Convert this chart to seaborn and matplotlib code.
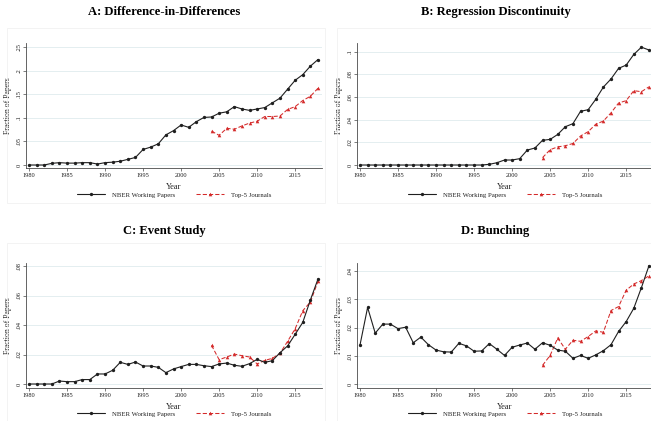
import numpy as np
import pandas as pd
import matplotlib
matplotlib.use("Agg")
import matplotlib.pyplot as plt
from matplotlib.patches import Rectangle
from matplotlib.ticker import FuncFormatter
import seaborn as sns

# ---------------------------------------------------------------- data
years_nber = list(range(1980, 2019))
years_top5 = list(range(2004, 2019))

did_nber = [0.000, 0.000, 0.000, 0.0035, 0.005, 0.004, 0.004, 0.005, 0.005, 0.002,
            0.005, 0.006, 0.008, 0.012, 0.016, 0.033, 0.038, 0.045, 0.064, 0.073,
            0.085, 0.080, 0.092, 0.101, 0.102, 0.110, 0.113, 0.124, 0.119, 0.116,
            0.119, 0.122, 0.132, 0.142, 0.161, 0.180, 0.192, 0.210, 0.224]
did_top5 = [0.072, 0.063, 0.078, 0.076, 0.083, 0.089, 0.093, 0.103, 0.103, 0.104,
            0.118, 0.124, 0.137, 0.146, 0.163]

rd_nber = [0.0] * 17 + [0.0006, 0.002, 0.0044, 0.0044, 0.0056, 0.0132, 0.015, 0.0218,
                        0.0226, 0.027, 0.0338, 0.0365, 0.0474, 0.0488, 0.058, 0.0688,
                        0.0759, 0.0853, 0.0882, 0.0976, 0.104, 0.1015]
rd_top5 = [0.0065, 0.0135, 0.016, 0.017, 0.019, 0.0256, 0.0294, 0.036, 0.0388, 0.046,
           0.0547, 0.0568, 0.0656, 0.0647, 0.069]

es_nber = [0.0, 0.0, 0.0, 0.0, 0.002, 0.0016, 0.0016, 0.003, 0.003, 0.0068,
           0.0068, 0.0093, 0.0147, 0.0133, 0.0149, 0.0122, 0.0122, 0.0113, 0.0077, 0.0102,
           0.0118, 0.0133, 0.0133, 0.0124, 0.0118, 0.0136, 0.0142, 0.0127, 0.012, 0.0138,
           0.0167, 0.0147, 0.0158, 0.0212, 0.0258, 0.0337, 0.0418, 0.057, 0.0712]
es_top5 = [0.0262, 0.0165, 0.0183, 0.0203, 0.0192, 0.0183, 0.0136, 0.016, 0.0174, 0.0208,
           0.0289, 0.0375, 0.0497, 0.0556, 0.0696]

bun_nber = [0.0138, 0.0271, 0.018, 0.0212, 0.0212, 0.0196, 0.0201, 0.0146, 0.0166, 0.0139,
            0.012, 0.0114, 0.0113, 0.0144, 0.0135, 0.0116, 0.0117, 0.0143, 0.0123, 0.0101,
            0.013, 0.0138, 0.0145, 0.0123, 0.0146, 0.0137, 0.012, 0.0116, 0.0091, 0.0101,
            0.0091, 0.0103, 0.0118, 0.0139, 0.0186, 0.0221, 0.0268, 0.0341, 0.0419]
bun_top5 = [0.0066, 0.0101, 0.0163, 0.0123, 0.0155, 0.0151, 0.0168, 0.0188, 0.0183, 0.026,
            0.0274, 0.0332, 0.0354, 0.0366, 0.0383]

titles = ["A: Difference-in-Differences", "B: Regression Discontinuity",
          "C: Event Study", "D: Bunching"]
series_labels = ["NBER Working Papers", "Top-5 Journals"]
x_ticks = [1980, 1985, 1990, 1995, 2000, 2005, 2010, 2015]
y_ticks = [
    [0, 0.05, 0.10, 0.15, 0.20, 0.25],
    [0, 0.02, 0.04, 0.06, 0.08, 0.10],
    [0, 0.02, 0.04, 0.06, 0.08],
    [0, 0.01, 0.02, 0.03, 0.04],
]

# ---------------------------------------------------------------- style
sns.set_theme(style="white")
plt.rcParams["font.family"] = ["Liberation Serif", "DejaVu Serif"]

W, H = 651, 421
fig = plt.figure(figsize=(W / 100, H / 100), dpi=100)
fig.patch.set_facecolor("white")

NBER_COLOR = "#1f1f1f"
TOP5_COLOR = "#d42a2a"
GRID_COLOR = "#e4eef0"
AXIS_COLOR = "#4a4a4a"


def stata_fmt(v, _pos=None):
    s = f"{v:.2f}".rstrip("0").rstrip(".")
    if s.startswith("0."):
        s = s[1:]
    return s


def px_axes(left, top, right, bottom):
    return fig.add_axes([left / W, 1 - bottom / H, (right - left) / W, (bottom - top) / H])


# panel layout in pixels: axes box, and where the first/last year and 0/top tick fall
panels = [
    dict(box=(26, 43, 322, 168), px=(29, 318), py=(165, 47.3), frame=(7, 28, 325, 203),
         title=(164, 12), legend_y=195, xlabel_x=174),
    dict(box=(357, 43, 653, 168), px=(360, 649), py=(165, 51.7), frame=(337, 28, 660, 203),
         title=(496, 12), legend_y=195, xlabel_x=505),
    dict(box=(26, 263, 322, 388), px=(29, 318), py=(384, 266), frame=(7, 243, 325, 425),
         title=(164, 231), legend_y=414, xlabel_x=174),
    dict(box=(357, 263, 653, 388), px=(360, 649), py=(384, 271), frame=(337, 243, 660, 425),
         title=(495, 231), legend_y=414, xlabel_x=505),
]

nber_sets = [did_nber, rd_nber, es_nber, bun_nber]
top5_sets = [did_top5, rd_top5, es_top5, bun_top5]

for i, p in enumerate(panels):
    fl, ft, fr, fb = p["frame"]
    fig.patches.append(Rectangle((fl / W, 1 - fb / H), (fr - fl) / W, (fb - ft) / H,
                                 transform=fig.transFigure, fill=False,
                                 edgecolor="#f1f1f1", linewidth=0.6, zorder=0))

    L, T, R, B = p["box"]
    ax = px_axes(L, T, R, B)
    ax.set_facecolor("white")

    nber = pd.DataFrame({"Year": years_nber, "Fraction": nber_sets[i]})
    top5 = pd.DataFrame({"Year": years_top5, "Fraction": top5_sets[i]})

    sns.lineplot(data=nber, x="Year", y="Fraction", ax=ax, color=NBER_COLOR,
                 linewidth=0.8, marker="o", markersize=2.4, markeredgewidth=0,
                 label=series_labels[0], zorder=4)
    sns.lineplot(data=top5, x="Year", y="Fraction", ax=ax, color=TOP5_COLOR,
                 linewidth=0.75, linestyle=(0, (4, 2)), marker="^", markersize=2.6,
                 markeredgewidth=0, label=series_labels[1], zorder=3)

    # limits derived from the pixel placement of first/last year and 0/top tick
    p0, p1 = p["px"]
    sx = (p1 - p0) / (years_nber[-1] - years_nber[0])
    ax.set_xlim(years_nber[0] - (p0 - L) / sx, years_nber[-1] + (R - p1) / sx)
    q0, q1 = p["py"]
    ytop = y_ticks[i][-1]
    sy = (q0 - q1) / ytop
    ax.set_ylim(0 - (B - q0) / sy, ytop + (q1 - T) / sy)

    ax.set_xticks(x_ticks)
    ax.set_yticks(y_ticks[i])
    ax.yaxis.set_major_formatter(FuncFormatter(stata_fmt))
    ax.tick_params(axis="both", which="major", labelsize=4.6, length=2.2, width=0.5,
                   color=AXIS_COLOR, labelcolor="#222222", pad=1.2, direction="out")
    ax.tick_params(axis="both", bottom=True, left=True)
    for lbl in ax.get_yticklabels():
        lbl.set_rotation(90)
        lbl.set_va("center")
    ax.grid(axis="y", color=GRID_COLOR, linewidth=0.7)
    ax.grid(axis="x", visible=False)
    ax.set_axisbelow(True)

    for side in ("top", "right"):
        ax.spines[side].set_visible(False)
    for side in ("left", "bottom"):
        ax.spines[side].set_color(AXIS_COLOR)
        ax.spines[side].set_linewidth(0.6)

    ax.set_xlabel("Year", fontsize=6, color="#222222", labelpad=0)
    ax.xaxis.set_label_coords((p["xlabel_x"] - L) / (R - L), -(183 - 168) / (B - T))
    ax.set_ylabel("Fraction of Papers", fontsize=5.6, color="#222222")
    ax.yaxis.set_label_coords(-14 / (R - L), 0.5)

    leg = ax.legend(loc="center",
                    bbox_to_anchor=((p["xlabel_x"] - L) / (R - L), -(p["legend_y"] - B) / (B - T)),
                    ncol=2, frameon=False, fontsize=4.9, handlelength=4.2,
                    columnspacing=3.0, handletextpad=1.0)
    for t in leg.get_texts():
        t.set_color("#222222")

    tx, ty = p["title"]
    fig.text(tx / W, 1 - ty / H, titles[i], ha="center", va="center",
             fontsize=9.1, fontweight="bold", color="black")

fig.savefig("out.png", dpi=100, facecolor="white")
